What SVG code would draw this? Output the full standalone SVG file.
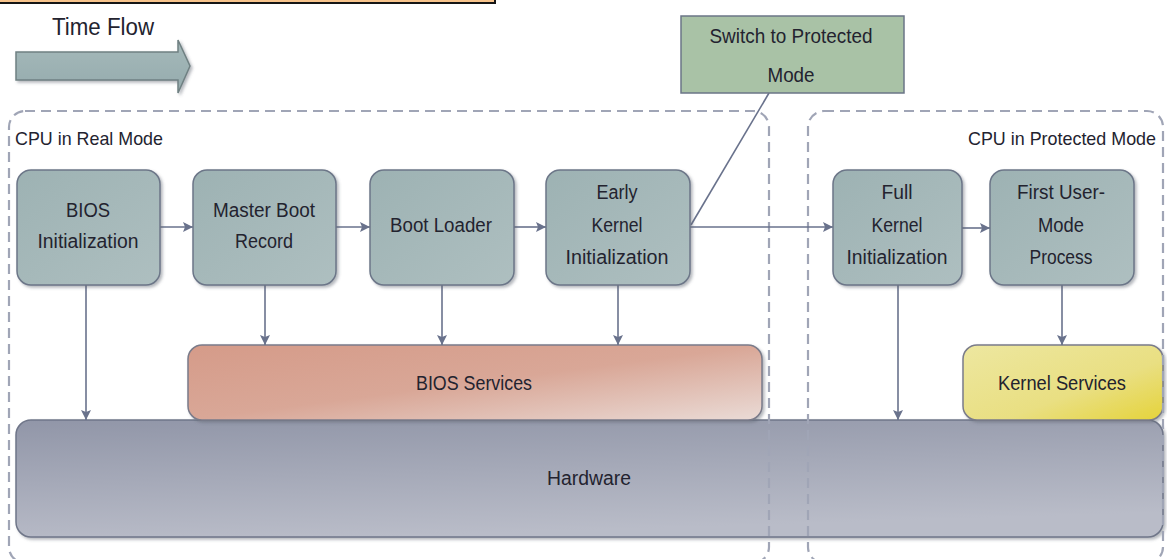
<svg xmlns="http://www.w3.org/2000/svg" width="1167" height="559" viewBox="0 0 1167 559">
  <style>
    text { font-family: "Liberation Sans", Arial, sans-serif; fill: #23232f; }
    .lbl { font-size: 20px; text-anchor: middle; }
    .step { fill: url(#gStep); stroke: #6c7688; stroke-width: 1.5; }
    .frame { fill: none; stroke: #a0a5b6; stroke-width: 2.2; stroke-dasharray: 10 6; }
    .conn { stroke: #69728c; stroke-width: 1.6; fill: none; }
    .flow { marker-end: url(#arrow); }
  </style>
  <defs>
    <marker id="arrow" viewBox="0 0 10 10" refX="10" refY="5" markerWidth="10" markerHeight="10" markerUnits="userSpaceOnUse" orient="auto">
      <path d="M0,0 L10,5 L0,10 L2,5 Z" fill="#69728c"/>
    </marker>
    <linearGradient id="gStep" x1="0" y1="0" x2="1" y2="1">
      <stop offset="0" stop-color="#9db2b3"/>
      <stop offset="1" stop-color="#aebfc0"/>
    </linearGradient>
    <linearGradient id="gBios" x1="0" y1="0" x2="1" y2="1">
      <stop offset="0" stop-color="#d59b89"/>
      <stop offset="0.5" stop-color="#d9a797"/>
      <stop offset="1" stop-color="#eadbd6"/>
    </linearGradient>
    <linearGradient id="gKern" x1="0" y1="0" x2="1" y2="1">
      <stop offset="0" stop-color="#ede7a0"/>
      <stop offset="0.6" stop-color="#e9df82"/>
      <stop offset="1" stop-color="#e5d33a"/>
    </linearGradient>
    <linearGradient id="gHw" x1="0" y1="0" x2="0.3" y2="1">
      <stop offset="0" stop-color="#9196a8"/>
      <stop offset="1" stop-color="#b9bcc8"/>
    </linearGradient>
    <linearGradient id="gTime" x1="0" y1="0" x2="0" y2="1">
      <stop offset="0" stop-color="#a5b9ba"/>
      <stop offset="1" stop-color="#95abad"/>
    </linearGradient>
    <filter id="shadow" x="-5%" y="-5%" width="110%" height="120%">
      <feDropShadow dx="2" dy="2" stdDeviation="1.5" flood-color="#5a6070" flood-opacity="0.45"/>
    </filter>
  </defs>

  <!-- header strip at the top edge -->
  <rect x="-4" y="-10" width="499" height="13" fill="#f8c48c" stroke="#151515" stroke-width="2"/>

  <!-- time flow legend -->
  <g id="time-flow">
    <text x="103" y="35" font-size="23" text-anchor="middle" textLength="102" lengthAdjust="spacingAndGlyphs">Time Flow</text>
    <path d="M16,52 H178 V40 L190,66 L178,93 V80 H16 Z" fill="url(#gTime)" stroke="#6f8082" stroke-width="1.5" filter="url(#shadow)"/>
  </g>

  <!-- bottom layer: hardware and services -->
  <g id="hardware">
    <rect x="16" y="420" width="1147" height="117" rx="15" fill="url(#gHw)" stroke="#6f7689" stroke-width="1.5" filter="url(#shadow)"/>
    <text class="lbl" x="589" y="485" textLength="84" lengthAdjust="spacingAndGlyphs">Hardware</text>
  </g>
  <g id="bios-services">
    <rect x="188" y="345" width="574" height="75" rx="14" fill="url(#gBios)" stroke="#7a7b8a" stroke-width="1.5" filter="url(#shadow)"/>
    <text class="lbl" x="474" y="390" textLength="116" lengthAdjust="spacingAndGlyphs">BIOS Services</text>
  </g>
  <g id="kernel-services">
    <rect x="963" y="345" width="200" height="75" rx="14" fill="url(#gKern)" stroke="#7a7b8a" stroke-width="1.5" filter="url(#shadow)"/>
    <text class="lbl" x="1062" y="390" textLength="128" lengthAdjust="spacingAndGlyphs">Kernel Services</text>
  </g>

  <!-- mode frames -->
  <g id="real-mode">
    <rect class="frame" x="9" y="111" width="760" height="452" rx="16"/>
    <text x="15" y="145" font-size="19" textLength="148" lengthAdjust="spacingAndGlyphs">CPU in Real Mode</text>
  </g>
  <g id="protected-mode">
    <rect class="frame" x="808" y="111" width="355" height="452" rx="16"/>
    <text x="1156" y="145" font-size="19" text-anchor="end" textLength="188" lengthAdjust="spacingAndGlyphs">CPU in Protected Mode</text>
  </g>

  <!-- connectors -->
  <g id="connectors">
    <line class="conn flow" x1="160" y1="227" x2="193" y2="227"/>
    <line class="conn flow" x1="336" y1="227" x2="370" y2="227"/>
    <line class="conn flow" x1="514" y1="227" x2="546" y2="227"/>
    <line class="conn flow" x1="690" y1="227" x2="833" y2="227"/>
    <line class="conn flow" x1="962" y1="228" x2="990" y2="228"/>
    <line class="conn" x1="691" y1="225" x2="769" y2="93"/>
    <line class="conn flow" x1="86" y1="285" x2="86" y2="420"/>
    <line class="conn flow" x1="265" y1="285" x2="265" y2="345"/>
    <line class="conn flow" x1="442" y1="285" x2="442" y2="345"/>
    <line class="conn flow" x1="618" y1="285" x2="618" y2="345"/>
    <line class="conn flow" x1="898" y1="285" x2="898" y2="420"/>
    <line class="conn flow" x1="1062" y1="285" x2="1062" y2="345"/>
  </g>

  <!-- boot steps -->
  <g id="bios-init">
    <rect class="step" x="17" y="170" width="143" height="115" rx="14" filter="url(#shadow)"/>
    <text class="lbl" x="88" y="217" textLength="44" lengthAdjust="spacingAndGlyphs">BIOS</text>
    <text class="lbl" x="88" y="248" textLength="101" lengthAdjust="spacingAndGlyphs">Initialization</text>
  </g>
  <g id="mbr">
    <rect class="step" x="193" y="170" width="143" height="115" rx="14" filter="url(#shadow)"/>
    <text class="lbl" x="264" y="217" textLength="102" lengthAdjust="spacingAndGlyphs">Master Boot</text>
    <text class="lbl" x="264" y="248" textLength="58" lengthAdjust="spacingAndGlyphs">Record</text>
  </g>
  <g id="boot-loader">
    <rect class="step" x="370" y="170" width="144" height="115" rx="14" filter="url(#shadow)"/>
    <text class="lbl" x="441" y="232" textLength="102" lengthAdjust="spacingAndGlyphs">Boot Loader</text>
  </g>
  <g id="early-kernel">
    <rect class="step" x="546" y="170" width="144" height="115" rx="14" filter="url(#shadow)"/>
    <text class="lbl" x="617" y="199" textLength="41" lengthAdjust="spacingAndGlyphs">Early</text>
    <text class="lbl" x="617" y="232" textLength="51" lengthAdjust="spacingAndGlyphs">Kernel</text>
    <text class="lbl" x="617" y="264" textLength="103" lengthAdjust="spacingAndGlyphs">Initialization</text>
  </g>
  <g id="full-kernel">
    <rect class="step" x="833" y="170" width="129" height="115" rx="14" filter="url(#shadow)"/>
    <text class="lbl" x="897" y="199" textLength="31" lengthAdjust="spacingAndGlyphs">Full</text>
    <text class="lbl" x="897" y="232" textLength="51" lengthAdjust="spacingAndGlyphs">Kernel</text>
    <text class="lbl" x="897" y="264" textLength="101" lengthAdjust="spacingAndGlyphs">Initialization</text>
  </g>
  <g id="first-user-process">
    <rect class="step" x="990" y="170" width="144" height="115" rx="14" filter="url(#shadow)"/>
    <text class="lbl" x="1061" y="199" textLength="88" lengthAdjust="spacingAndGlyphs">First User-</text>
    <text class="lbl" x="1061" y="232" textLength="46" lengthAdjust="spacingAndGlyphs">Mode</text>
    <text class="lbl" x="1061" y="264" textLength="63" lengthAdjust="spacingAndGlyphs">Process</text>
  </g>

  <!-- mode switch note -->
  <g id="switch-protected">
    <rect x="681" y="16" width="223" height="77" fill="#a9c2a6" stroke="#6b7587" stroke-width="1.5"/>
    <text class="lbl" x="791" y="43" textLength="163" lengthAdjust="spacingAndGlyphs">Switch to Protected</text>
    <text class="lbl" x="791" y="82" textLength="47" lengthAdjust="spacingAndGlyphs">Mode</text>
  </g>
</svg>
